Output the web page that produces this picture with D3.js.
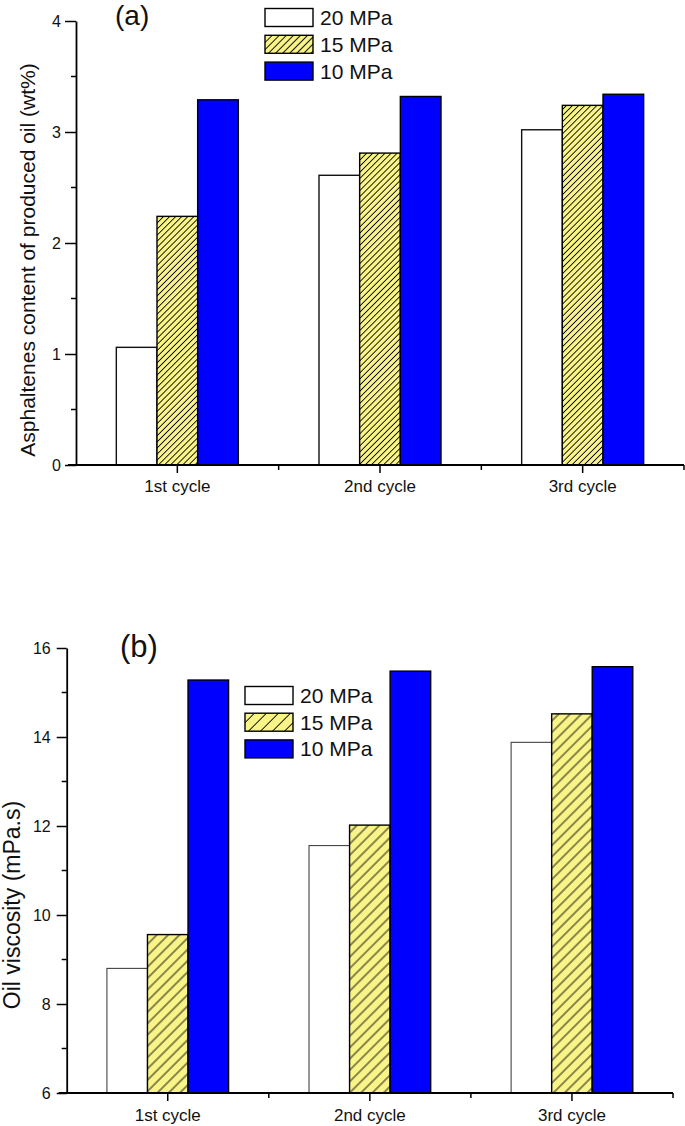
<!DOCTYPE html>
<html>
<head>
<meta charset="utf-8">
<script src="https://cdnjs.cloudflare.com/ajax/libs/d3/7.8.5/d3.min.js"></script>
<style>
  html, body { margin: 0; padding: 0; background: #fff; }
  svg { display: block; font-family: "Liberation Sans", Arial, sans-serif; }
</style>
</head>
<body>
<svg id="chart" width="685" height="1126"></svg>
<script>
// ---- data ----
const categories = ["1st cycle", "2nd cycle", "3rd cycle"];
const seriesNames = ["20 MPa", "15 MPa", "10 MPa"];
const asph20 = [1.06, 2.61, 3.02];
const asph15 = [2.24, 2.81, 3.24];
const asph10 = [3.29, 3.32, 3.34];
const visc20 = [8.80, 11.56, 13.88];
const visc15 = [9.56, 12.02, 14.52];
const visc10 = [15.28, 15.48, 15.58];
const asphTicks = [0, 1, 2, 3, 4];
const viscTicks = [6, 8, 10, 12, 14, 16];

const svg = d3.select("#chart");
const defs = svg.append("defs");
const YELLOW = "#f8f488";
const BLUE = "#0000ff";

function hatch(id, s) {
  const p = defs.append("pattern")
    .attr("id", id).attr("patternUnits", "userSpaceOnUse")
    .attr("width", s).attr("height", s)
    .attr("patternTransform", "rotate(45)");
  p.append("rect").attr("width", s).attr("height", s).attr("fill", YELLOW);
  p.append("line").attr("x1", s / 2).attr("x2", s / 2).attr("y1", 0).attr("y2", s)
    .attr("stroke", "#000").attr("stroke-width", 0.9);
}
hatch("hA", 4.3);
hatch("hALeg", 5.0);
hatch("hB", 8.0);
hatch("hBLeg", 8.5);

function panel(cfg) {
  const g = svg.append("g");
  const x = d3.scaleBand().domain(categories).range([cfg.x0, cfg.x1]).padding(0);
  const y = d3.scaleLinear().domain(cfg.domain).range([cfg.yb, cfg.yt]);
  const groupW = x.bandwidth() * 0.602;
  const inner = d3.scaleBand().domain(seriesNames).range([0, groupW]).padding(0);
  const fills = [ "#ffffff", `url(#${cfg.hatch})`, BLUE ];
  const strokes = [cfg.whiteStroke, "#000", "#000"];
  const sw = [cfg.whiteSW, 1.4, 1.4];
  const vals = cfg.values;

  // bars
  seriesNames.forEach((s, si) => {
    g.append("g").selectAll("rect")
      .data(categories.map((c, ci) => ({ c, v: vals[si][ci] })))
      .join("rect")
      .attr("x", d => x(d.c) + (x.bandwidth() - groupW) / 2 + inner(s))
      .attr("y", d => y(d.v))
      .attr("width", inner.bandwidth())
      .attr("height", d => y(cfg.domain[0]) - y(d.v))
      .attr("fill", fills[si])
      .attr("stroke", strokes[si])
      .attr("stroke-width", sw[si]);
  });

  // y axis major
  const yAxis = d3.axisLeft(y).tickValues(cfg.ticks).tickSize(cfg.ytick)
    .tickPadding(cfg.ypad).tickSizeOuter(0).tickFormat(d3.format("d"));
  const ya = g.append("g").attr("transform", `translate(${cfg.x0},0)`).call(yAxis);
  ya.selectAll("text").attr("font-size", cfg.yFont).attr("fill", "#111")
    .attr("font-family", "Liberation Sans, Arial, sans-serif");
  ya.selectAll("line").attr("stroke", "#000").attr("stroke-width", 1.5);
  ya.select(".domain").attr("stroke", "#000").attr("stroke-width", 1.8);
  // y minor ticks
  const minors = cfg.ticks.slice(0, -1).map((t, i) => (t + cfg.ticks[i + 1]) / 2);
  g.append("g").selectAll("line").data(minors).join("line")
    .attr("x1", cfg.x0 - 5).attr("x2", cfg.x0)
    .attr("y1", d => y(d)).attr("y2", d => y(d))
    .attr("stroke", "#000").attr("stroke-width", 1.5);

  // x axis
  const xAxis = d3.axisBottom(x).tickSize(8).tickPadding(cfg.xpad).tickSizeOuter(0);
  const xa = g.append("g").attr("transform", `translate(0,${cfg.yb})`).call(xAxis);
  xa.selectAll("text").attr("font-size", cfg.xFont).attr("fill", "#111")
    .attr("font-family", "Liberation Sans, Arial, sans-serif");
  xa.selectAll("line").attr("stroke", "#000").attr("stroke-width", 1.5);
  xa.select(".domain").attr("stroke", "#000").attr("stroke-width", 1.8)
    .attr("d", `M${cfg.x0 - 8},0H${cfg.x1}`);
  // x minor ticks at band boundaries
  const bounds = categories.slice(1).map(c => x(c)).concat([cfg.x1]);
  g.append("g").selectAll("line").data(bounds).join("line")
    .attr("x1", d => d).attr("x2", d => d)
    .attr("y1", cfg.yb).attr("y2", cfg.yb + 5)
    .attr("stroke", "#000").attr("stroke-width", 1.5);

  // y label
  g.append("text")
    .attr("transform", `translate(${cfg.labX},${cfg.labY}) rotate(-90)`)
    .attr("text-anchor", "middle")
    .attr("font-size", cfg.labFont).attr("fill", "#111")
    .text(cfg.label);

  // panel tag
  g.append("text").attr("x", cfg.tagX).attr("y", cfg.tagY)
    .attr("font-size", cfg.tagFont).attr("fill", "#111").text(cfg.tag);

  // legend
  const legFills = ["#ffffff", `url(#${cfg.legHatch})`, BLUE];
  seriesNames.forEach((s, i) => {
    const ly = cfg.legY + i * cfg.legStep;
    g.append("rect").attr("x", cfg.legX).attr("y", ly)
      .attr("width", 48).attr("height", 18)
      .attr("fill", legFills[i]).attr("stroke", "#000").attr("stroke-width", 1.4);
    g.append("text").attr("x", cfg.legX + 55).attr("y", ly + 9)
      .attr("dy", "0.36em").attr("font-size", 21).attr("fill", "#111").text(s);
  });
}

panel({
  x0: 76, x1: 684, yb: 465, yt: 21, domain: [0, 4], ticks: asphTicks,
  values: [asph20, asph15, asph10], hatch: "hA", legHatch: "hALeg",
  whiteStroke: "#111", whiteSW: 1.4,
  ytick: 11, ypad: 4, yFont: 16, xpad: 7, xFont: 17,
  label: "Asphaltenes content of produced oil (wt%)", labX: 35, labY: 260, labFont: 21,
  tag: "(a)", tagX: 115, tagY: 25, tagFont: 28,
  legX: 265, legY: 8.5, legStep: 26.8
});

panel({
  x0: 66.7, x1: 673, yb: 1093, yt: 648, domain: [6, 16], ticks: viscTicks,
  values: [visc20, visc15, visc10], hatch: "hB", legHatch: "hBLeg",
  whiteStroke: "#444", whiteSW: 1.1,
  ytick: 10, ypad: 6, yFont: 16, xpad: 8, xFont: 17,
  label: "Oil viscosity (mPa.s)", labX: 20, labY: 905, labFont: 23,
  tag: "(b)", tagX: 120, tagY: 657, tagFont: 31,
  legX: 245, legY: 686.5, legStep: 26.7
});
</script>
</body>
</html>
